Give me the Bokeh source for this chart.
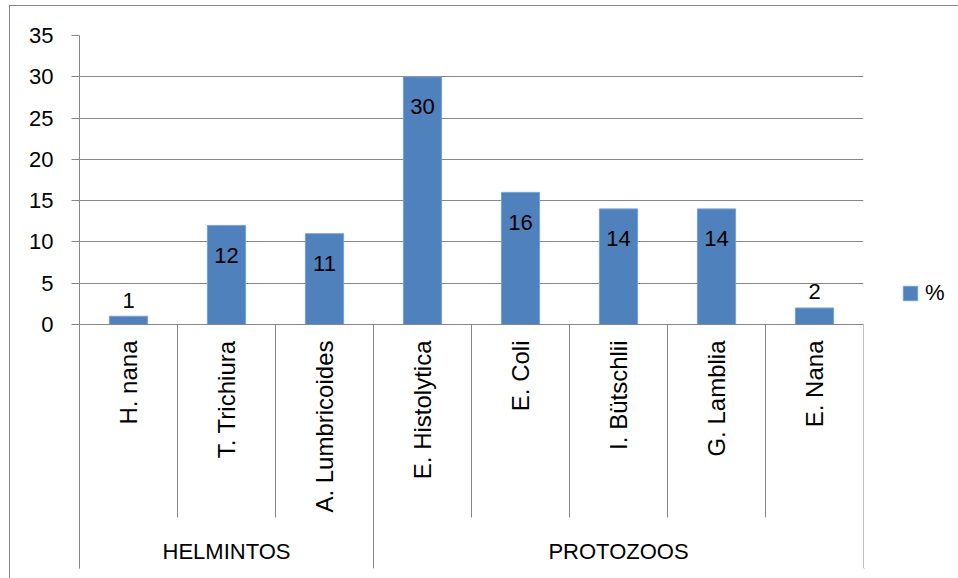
import math
from bokeh.plotting import figure
from bokeh.layouts import row
from bokeh.models import (FactorRange, Range1d, FixedTicker, ColumnDataSource,
                          Legend, LegendItem)
from bokeh.core.properties import value
from bokeh.embed import file_html
from bokeh.resources import INLINE

# ---- data ----
groups = ["HELMINTOS", "HELMINTOS", "HELMINTOS",
          "PROTOZOOS", "PROTOZOOS", "PROTOZOOS", "PROTOZOOS", "PROTOZOOS"]
species = ["H. nana", "T. Trichiura", "A. Lumbricoides", "E. Histolytica",
           "E. Coli", "I. Bütschlii", "G. Lamblia", "E. Nana"]
percent = [1, 12, 11, 30, 16, 14, 14, 2]
y_ticks = [0, 5, 10, 15, 20, 25, 30, 35]
series_name = "%"

# ---- style ----
FONT = "Liberation Sans"
BLUE = "#4F81BD"
BAR_EDGE = "#7BA0CF"
GRID = "#878787"
Y_MAX = 35
Y_MIN = -29.55      # room below zero for the two-level category axis
SUB_DEPTH = -23.37  # depth of the inner category separators
GROUP_Y = -27.5     # vertical position of the group labels

factors = list(zip(groups, species))

p = figure(width=854, height=572,
           x_range=FactorRange(*factors, factor_padding=0, group_padding=0,
                               subgroup_padding=0, range_padding=0),
           y_range=Range1d(Y_MIN, Y_MAX),
           output_backend="svg", toolbar_location=None,
           min_border_left=69, min_border_right=1,
           min_border_top=29, min_border_bottom=10)
p.outline_line_color = None
p.background_fill_color = "white"
p.border_fill_color = "white"

# y axis
ya = p.yaxis[0]
ya.ticker = FixedTicker(ticks=y_ticks)
ya.axis_line_color = GRID
ya.major_tick_line_color = GRID
ya.major_tick_out = 8
ya.major_tick_in = 0
ya.minor_tick_line_color = None
ya.major_label_standoff = 18
ya.major_label_text_font = FONT
ya.major_label_text_font_size = "22px"
ya.major_label_text_color = "#000000"

p.ygrid.ticker = FixedTicker(ticks=y_ticks)
p.ygrid.grid_line_color = GRID
p.xgrid.visible = False

# x axis, pinned at y = 0
xa = p.xaxis[0]
xa.fixed_location = 0
xa.axis_line_color = GRID
xa.major_tick_line_color = None
xa.major_tick_out = 0
xa.major_tick_in = 0
xa.major_label_orientation = math.pi / 2
xa.major_label_standoff = 16
xa.major_label_text_font = FONT
xa.major_label_text_font_size = "24px"
xa.major_label_text_color = "#000000"
xa.group_text_color = None
xa.separator_line_color = None

# category separators (Excel-style)
sep_x, sep_y1 = [], []
for i, f in enumerate(factors):
    start = i == 0 or groups[i - 1] != groups[i]
    sep_x.append((f[0], f[1], -0.5))
    sep_y1.append(Y_MIN if start else SUB_DEPTH)
sep_x.append((groups[-1], species[-1], 0.5))
sep_y1.append(Y_MIN)
p.segment(x0=sep_x, y0=[0] * len(sep_x), x1=sep_x, y1=sep_y1,
          line_color=GRID, line_width=1)

# group labels centred under their categories
group_names, group_x = [], []
for g in dict.fromkeys(groups):
    members = [f for f in factors if f[0] == g]
    n = len(members)
    m = members[n // 2]
    group_x.append((m[0], m[1], 0.0 if n % 2 else -0.5))
    group_names.append(g)
p.text(x=group_x, y=[GROUP_Y] * len(group_x), text=group_names,
       text_align="center", text_baseline="middle",
       text_font=value(FONT), text_font_size="22px", text_color="#000000")

# bars and labels
src = ColumnDataSource(dict(
    x=factors, top=percent, label=[str(v) for v in percent],
    yoff=[30 if v >= 5 else -16 for v in percent]))
bars = p.vbar(x="x", top="top", width=0.39, source=src,
              fill_color=BLUE, line_color=BAR_EDGE, line_width=1)
p.text(x="x", y="top", text="label", y_offset="yoff", source=src,
       text_align="center", text_baseline="middle",
       text_font=value(FONT), text_font_size="22px", text_color="#000000")

# legend panel to the right of the plot area (key glyph kept off-canvas)
lf = figure(width=94, height=572, x_range=Range1d(0, 1), y_range=Range1d(0, 1),
            output_backend="svg", toolbar_location=None, min_border=0,
            x_axis_location=None, y_axis_location=None)
lf.grid.visible = False
lf.outline_line_color = None
lf.border_fill_color = "white"
key = lf.vbar(x=[-5], top=[-5], bottom=-6, width=0.5,
              fill_color=BLUE, line_color=BAR_EDGE)
legend = Legend(items=[LegendItem(label=series_name, renderers=[key], index=0)],
                location=(37, 262), border_line_color=None,
                background_fill_alpha=0, padding=0, margin=0, spacing=0,
                glyph_width=18, glyph_height=18, label_standoff=6,
                label_text_font=FONT, label_text_font_size="22px",
                label_text_color="#000000")
lf.add_layout(legend, "center")

page = row(p, lf)
page.styles = {"margin-top": "5px", "margin-left": "9px",
               "border-top": "1px solid " + GRID, "border-left": "1px solid " + GRID}

open("out.html", "w").write(file_html(page, INLINE))
